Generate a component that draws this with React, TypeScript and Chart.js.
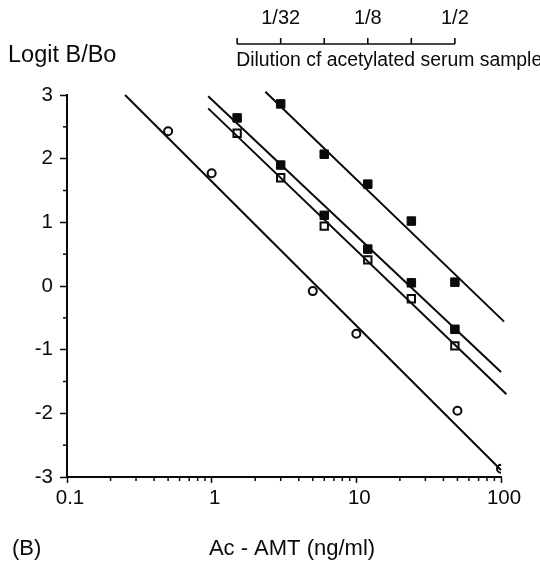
import React, { useEffect, useRef } from "react";
import { Chart, registerables } from "chart.js";

Chart.register(...registerables);

// ---- data ----
const circleConc = [0.5, 1, 5, 10, 50, 100];
const circleLogit = [2.43, 1.77, -0.08, -0.75, -1.96, -2.87];

const seriesAConc = [3, 6, 12, 24, 48];
const seriesALogit = [2.86, 2.07, 1.6, 1.02, 0.06];

const dilutionConc = [1.5, 3, 6, 12, 24, 48];
const seriesBLogit = [2.64, 1.9, 1.11, 0.58, 0.05, -0.68];
const seriesCLogit = [2.4, 1.7, 0.94, 0.41, -0.2, -0.94];

// fitted regression lines (end points)
const fitCircleX = [0.252, 100];
const fitCircleY = [3.0, -2.89];
const fitAX = [2.35, 105];
const fitAY = [3.05, -0.56];
const fitBX = [0.946, 100];
const fitBY = [2.98, -1.35];
const fitCX = [0.946, 109];
const fitCY = [2.79, -1.7];

// top dilution scale: undiluted sample corresponds to 96 ng/ml
const undilutedConc = 96;
const dilutionTicks = [1 / 64, 1 / 32, 1 / 16, 1 / 8, 1 / 4, 1 / 2];
const dilutionLabels = ["", "1/32", "", "1/8", "", "1/2"];

const xMajorTicks = [0.1, 1, 10, 100];
const yMinorTicks = [-2.5, -1.5, -0.5, 0.5, 1.5, 2.5];

const FONT = "'Liberation Sans', Arial, Helvetica, sans-serif";
const INK = "#0a0a0a";

const pts = (xs: number[], ys: number[]) => xs.map((x, i) => ({ x, y: ys[i] }));

const decorPlugin = {
  id: "decor",
  afterDraw(chart: any) {
    const ctx = chart.ctx;
    const xs = chart.scales.x;
    const ys = chart.scales.y;
    const area = chart.chartArea;
    ctx.save();
    ctx.strokeStyle = INK;
    ctx.fillStyle = INK;
    ctx.lineWidth = 1.5;
    // minor y ticks
    yMinorTicks.forEach((v) => {
      const py = ys.getPixelForValue(v);
      ctx.beginPath();
      ctx.moveTo(area.left - 4, py);
      ctx.lineTo(area.left, py);
      ctx.stroke();
    });
    // minor x ticks
    [0.1, 1, 10].forEach((d) => {
      for (let k = 2; k <= 9; k++) {
        const px = xs.getPixelForValue(k * d);
        ctx.beginPath();
        ctx.moveTo(px, area.bottom);
        ctx.lineTo(px, area.bottom + 4);
        ctx.stroke();
      }
    });
    // top dilution bracket
    const lineY = 44;
    const p0 = xs.getPixelForValue(dilutionTicks[0] * undilutedConc);
    const p1 = xs.getPixelForValue(dilutionTicks[dilutionTicks.length - 1] * undilutedConc);
    ctx.lineWidth = 1.6;
    ctx.beginPath();
    ctx.moveTo(p0, lineY);
    ctx.lineTo(p1, lineY);
    ctx.stroke();
    ctx.font = `20px ${FONT}`;
    ctx.textAlign = "center";
    ctx.textBaseline = "middle";
    dilutionTicks.forEach((d, i) => {
      const px = xs.getPixelForValue(d * undilutedConc);
      ctx.beginPath();
      ctx.moveTo(px, lineY);
      ctx.lineTo(px, lineY - 6);
      ctx.stroke();
      if (dilutionLabels[i]) ctx.fillText(dilutionLabels[i], px, 18);
    });
    ctx.textAlign = "left";
    ctx.font = `19.4px ${FONT}`;
    ctx.fillText("Dilution cf acetylated serum sample", p0 - 1, 61);
    // y label
    ctx.font = `23.5px ${FONT}`;
    ctx.fillText("Logit B/Bo", 8, 56);
    // panel label and x title
    ctx.font = `22px ${FONT}`;
    ctx.fillText("(B)", 12, 549);
    ctx.textAlign = "center";
    ctx.fillText("Ac - AMT (ng/ml)", 292, 549);
    ctx.restore();
  },
};

export default function App() {
  const ref = useRef<HTMLCanvasElement | null>(null);
  useEffect(() => {
    if (!ref.current) return;
    const lineDs = (data: any[]) => ({
      type: "line" as const,
      data,
      showLine: true,
      borderColor: INK,
      borderWidth: 2,
      pointRadius: 0,
      fill: false,
      clip: false as any,
    });
    const chart = new Chart(ref.current, {
      type: "scatter",
      data: {
        datasets: [
          lineDs(pts(fitCircleX, fitCircleY)),
          lineDs(pts(fitAX, fitAY)),
          lineDs(pts(fitBX, fitBY)),
          lineDs(pts(fitCX, fitCY)),
          {
            data: pts(circleConc, circleLogit),
            pointStyle: "circle",
            pointRadius: 4,
            backgroundColor: "#fff",
            borderColor: INK,
            borderWidth: 2,
          },
          {
            data: pts(seriesAConc, seriesALogit),
            pointStyle: "rect",
            pointRadius: 6,
            backgroundColor: INK,
            borderColor: INK,
            borderWidth: 1,
          },
          {
            data: pts(dilutionConc, seriesBLogit),
            pointStyle: "rect",
            pointRadius: 6,
            backgroundColor: INK,
            borderColor: INK,
            borderWidth: 1,
          },
          {
            data: pts(dilutionConc, seriesCLogit),
            pointStyle: "rect",
            pointRadius: 5.2,
            backgroundColor: "#fff",
            borderColor: INK,
            borderWidth: 2,
          },
        ] as any,
      },
      options: {
        responsive: false,
        animation: false,
        layout: { padding: { top: 95, right: 39, left: 0, bottom: 0 } },
        plugins: { legend: { display: false }, tooltip: { enabled: false } },
        scales: {
          x: {
            type: "logarithmic",
            min: 0.1,
            max: 100,
            afterBuildTicks: (s: any) => {
              s.ticks = xMajorTicks.map((v) => ({ value: v }));
            },
            afterFit: (s: any) => {
              s.height = 86;
            },
            border: { display: true, color: INK, width: 2 },
            grid: {
              display: true,
              drawOnChartArea: false,
              drawTicks: true,
              tickLength: 6,
              tickColor: INK,
              tickWidth: 1.5,
            },
            ticks: {
              color: INK,
              font: { family: FONT, size: 20.5 },
              padding: 3,
              labelOffset: 3,
              maxRotation: 0,
              autoSkip: false,
              callback: (v: any) => (v === 0.1 ? "0.1" : String(v)),
            },
          },
          y: {
            type: "linear",
            min: -3,
            max: 3,
            afterFit: (s: any) => {
              s.width = 67;
            },
            border: { display: true, color: INK, width: 2 },
            grid: {
              display: true,
              drawOnChartArea: false,
              drawTicks: true,
              tickLength: 7,
              tickColor: INK,
              tickWidth: 1.5,
            },
            ticks: {
              stepSize: 1,
              color: INK,
              font: { family: FONT, size: 20.5 },
              padding: 7,
              callback: (v: any) => String(v),
            },
          },
        },
      },
      plugins: [decorPlugin],
    });
    return () => chart.destroy();
  }, []);
  return (
    <div style={{ position: "fixed", left: 0, top: 0, width: 540, height: 563, background: "#fff" }}>
      <canvas ref={ref} width={540} height={563} style={{ display: "block" }} />
    </div>
  );
}
